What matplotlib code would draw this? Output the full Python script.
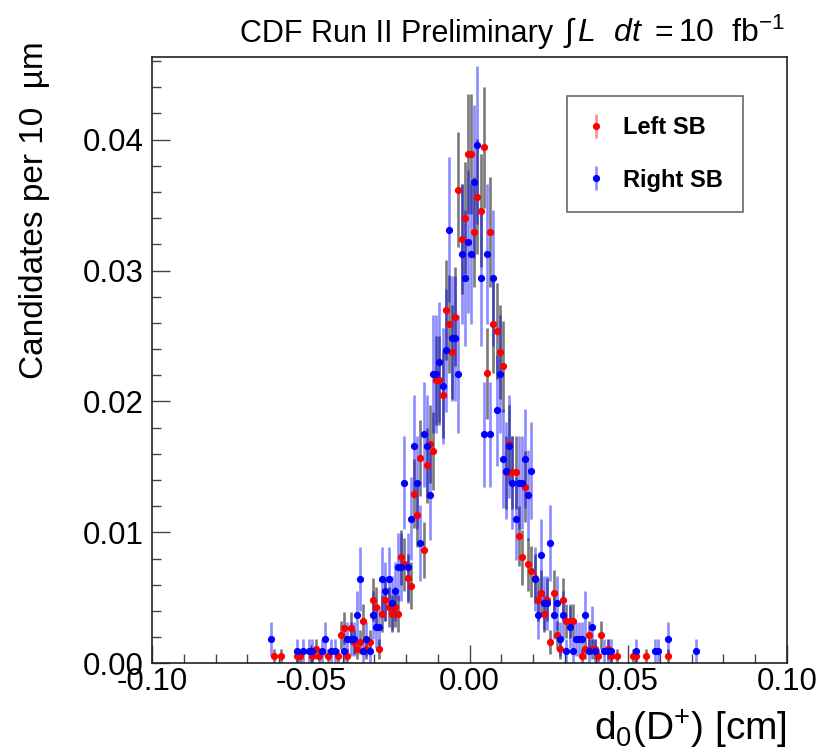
import numpy as np
import matplotlib
matplotlib.use('Agg')
from matplotlib import pyplot as plt
from matplotlib.ticker import MultipleLocator, FormatStrFormatter

plt.rcParams['font.family'] = ['Liberation Sans', 'DejaVu Sans']
plt.rcParams['mathtext.fontset'] = 'custom'
plt.rcParams['mathtext.rm'] = 'Liberation Sans'
plt.rcParams['mathtext.it'] = 'Liberation Sans:italic'
plt.rcParams['mathtext.bf'] = 'Liberation Sans:bold'

# %%
# fraction of candidates carried by one event in each sample
left_unit = 0.00054
right_unit = 0.00092

# Left sideband: bin centre [cm] and events in bin
left_d0 = [-0.0615, -0.0595, -0.0545, -0.0535, -0.0495, -0.0485, -0.0475, -0.0445,
           -0.0415, -0.0405, -0.0395, -0.0385, -0.0375, -0.0365, -0.0355, -0.0345,
           -0.0335, -0.0325, -0.0315, -0.0305, -0.0295, -0.0285, -0.0275, -0.0265,
           -0.0255, -0.0245, -0.0235, -0.0225, -0.0215, -0.0205, -0.0195, -0.0185,
           -0.0175, -0.0165, -0.0155, -0.0145, -0.0135, -0.0125, -0.0115, -0.0105,
           -0.0095, -0.0085, -0.0075, -0.0065, -0.0055, -0.0045, -0.0035, -0.0025,
           -0.0015, -0.0005, 0.0005, 0.0015, 0.0025, 0.0035, 0.0045, 0.0055,
           0.0065, 0.0075, 0.0085, 0.0095, 0.0105, 0.0115, 0.0125, 0.0135,
           0.0145, 0.0155, 0.0165, 0.0175, 0.0185, 0.0195, 0.0205, 0.0215,
           0.0225, 0.0235, 0.0245, 0.0255, 0.0265, 0.0275, 0.0285, 0.0295,
           0.0305, 0.0315, 0.0325, 0.0355, 0.0365, 0.0375, 0.0385, 0.0395,
           0.0405, 0.0415, 0.0435, 0.0445, 0.0465, 0.0515, 0.0525, 0.0555,
           0.0625]
left_n = [1, 1, 1, 1, 1, 2, 1, 1,
          1, 4, 5, 1, 5, 3, 2, 3,
          6, 2, 3, 9, 8, 2, 7, 9,
          8, 7, 8, 7, 15, 14, 12, 11,
          24, 21, 29, 16, 28, 31, 30, 40,
          40, 38, 50, 48, 44, 49, 67, 60,
          63, 72, 72, 61, 66, 64, 73, 41,
          61, 48, 47, 44, 42, 27, 31, 27,
          27, 18, 15, 25, 14, 13, 12, 9,
          10, 7, 9, 3, 10, 4, 2, 9,
          6, 6, 6, 1, 2, 4, 2, 2,
          1, 4, 2, 1, 1, 1, 1, 1,
          1]

# Right sideband
right_d0 = [-0.0625, -0.0545, -0.0525, -0.0505, -0.0495, -0.0465, -0.0455, -0.0435,
            -0.0425, -0.0395, -0.0385, -0.0375, -0.0365, -0.0355, -0.0345, -0.0335,
            -0.0325, -0.0315, -0.0305, -0.0295, -0.0285, -0.0275, -0.0265, -0.0255,
            -0.0245, -0.0235, -0.0225, -0.0215, -0.0205, -0.0195, -0.0185, -0.0175,
            -0.0165, -0.0155, -0.0145, -0.0135, -0.0125, -0.0115, -0.0105, -0.0095,
            -0.0085, -0.0075, -0.0065, -0.0055, -0.0045, -0.0035, -0.0025, -0.0015,
            -0.0005, 0.0005, 0.0015, 0.0025, 0.0035, 0.0045, 0.0055, 0.0065,
            0.0075, 0.0085, 0.0095, 0.0105, 0.0115, 0.0125, 0.0135, 0.0145,
            0.0155, 0.0165, 0.0175, 0.0185, 0.0195, 0.0205, 0.0215, 0.0225,
            0.0235, 0.0245, 0.0255, 0.0265, 0.0275, 0.0285, 0.0295, 0.0305,
            0.0315, 0.0325, 0.0335, 0.0345, 0.0355, 0.0365, 0.0375, 0.0385,
            0.0395, 0.0425, 0.0435, 0.0445, 0.0525, 0.0585, 0.0595, 0.0625,
            0.0715]
right_n = [2, 1, 1, 1, 1, 1, 2, 1,
           1, 1, 2, 2, 2, 4, 7, 1,
           2, 1, 4, 3, 3, 7, 6, 7,
           5, 6, 8, 8, 15, 8, 12, 18,
           15, 10, 19, 18, 14, 24, 24, 25,
           23, 26, 36, 27, 27, 24, 34, 32,
           35, 34, 40, 43, 32, 19, 34, 19,
           32, 21, 24, 17, 16, 18, 15, 12,
           15, 15, 17, 14, 16, 7, 4, 9,
           5, 5, 10, 4, 5, 2, 4, 1,
           3, 1, 2, 2, 2, 4, 1, 3,
           1, 1, 1, 1, 1, 1, 1, 2,
           1]

# %%
fig = plt.figure(figsize=(8.18, 7.52), dpi=100)
ax = fig.add_axes([0.186, 0.118, 0.776, 0.806])

series = [
    (left_d0, left_n, left_unit, 'red', (0.3, 0.3, 0.3, 0.75), (1, 0, 0, 0.45), 'Left SB'),
    (right_d0, right_n, right_unit, 'blue', (0, 0, 1, 0.45), (0, 0, 1, 0.45), 'Right SB'),
]

handles = []
for d0, n, unit, color, ecolor, leg_ecolor, label in series:
    n = np.array(n, dtype=float)
    y = n * unit
    err = np.sqrt(n) * unit
    ax.errorbar(d0, y, yerr=err, fmt='none', ecolor=ecolor, elinewidth=1.9, capsize=0, zorder=2)
    ax.plot(d0, y, 'o', color=color, ms=5.2, mew=0, zorder=3)
    h = ax.errorbar([np.nan], [np.nan], yerr=[np.nan], fmt='o', color=color, ms=5.2, mew=0,
                    ecolor=leg_ecolor, elinewidth=1.9, capsize=0, label=label)
    handles.append(h)

ax.set_xlim(-0.1, 0.1)
ax.set_ylim(0, 0.0463)
ax.xaxis.set_major_locator(MultipleLocator(0.05))
ax.xaxis.set_minor_locator(MultipleLocator(0.01))
ax.yaxis.set_major_locator(MultipleLocator(0.01))
ax.yaxis.set_minor_locator(MultipleLocator(0.002))
ax.xaxis.set_major_formatter(FormatStrFormatter('%.2f'))
ax.yaxis.set_major_formatter(FormatStrFormatter('%.2f'))
ax.tick_params(which='major', direction='in', length=13, width=1, color='#444444',
               labelsize=22.5, top=False, right=False)
ax.tick_params(which='minor', direction='in', length=6.5, width=1, color='#444444',
               top=False, right=False)
ax.tick_params(axis='x', pad=3)
ax.tick_params(axis='y', pad=6)
for s in ax.spines.values():
    s.set_linewidth(1.2)
    s.set_color('#222222')

leg = ax.legend(handles=handles, loc='upper left', bbox_to_anchor=(0.654, 0.936),
                borderaxespad=0, fancybox=False, frameon=True, handlelength=0.7,
                handletextpad=0.8, labelspacing=1.25, borderpad=0.85,
                prop={'weight': 'bold', 'size': 17})
leg.get_frame().set_edgecolor('#444444')
leg.get_frame().set_linewidth(1.2)

fig.text(240 / 818, 1 - 42 / 752, 'CDF Run II Preliminary',
         ha='left', va='baseline', fontsize=22)
fig.text(785 / 818, 1 - 42 / 752,
         r'$\int\,L\ \ dt\ = 10\ \ \mathrm{fb}^{\mathregular{-1}}$',
         ha='right', va='baseline', fontsize=23)
fig.text(35 / 818, 1 - 210 / 752, 'Candidates per 10  µm', rotation=90,
         ha='center', va='center', fontsize=24)
fig.text(787 / 818, 1 - 740 / 752, r'd$_{\mathregular{0}}$(D$^{\mathregular{+}}$) [cm]',
         ha='right', va='baseline', fontsize=28)

fig.savefig('out.png', dpi=100)
